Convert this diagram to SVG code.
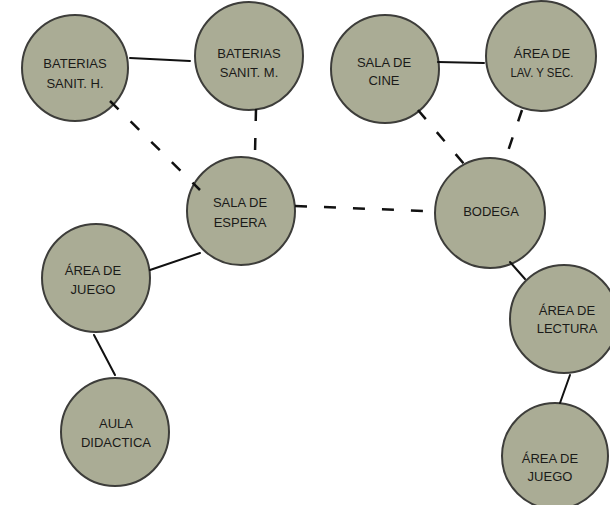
<svg xmlns="http://www.w3.org/2000/svg" width="610" height="505" viewBox="0 0 610 505">
<style>
.n{fill:#aaac95;stroke:#3d3d3a;stroke-width:2}
.t{font-family:"Liberation Sans",Arial,sans-serif;font-size:13px;fill:#1a1a18;text-anchor:middle}
.s{stroke:#111;stroke-width:2;fill:none;stroke-linecap:round}
.d{stroke:#111;stroke-width:2.5;fill:none;stroke-dasharray:12 17}
</style>
<rect width="610" height="505" fill="#fff"/>
<g id="n-banos-h"><circle class="n" cx="75" cy="68" r="53"/><text class="t" x="75" y="68">BATERIAS</text><text class="t" x="75" y="88">SANIT. H.</text></g>
<g id="n-banos-m"><circle class="n" cx="249" cy="56" r="54"/><text class="t" x="249" y="58">BATERIAS</text><text class="t" x="249" y="77">SANIT. M.</text></g>
<g id="n-cine"><circle class="n" cx="385" cy="69" r="54"/><text class="t" x="384" y="67">SALA DE</text><text class="t" x="384" y="85">CINE</text></g>
<g id="n-lav"><circle class="n" cx="541" cy="56" r="55"/><text class="t" x="542" y="58">ÁREA DE</text><text class="t" x="542" y="77" textLength="63" lengthAdjust="spacingAndGlyphs">LAV. Y SEC.</text></g>
<g id="n-espera"><circle class="n" cx="241" cy="211" r="54"/><text class="t" x="240" y="207">SALA DE</text><text class="t" x="240" y="227">ESPERA</text></g>
<g id="n-bodega"><circle class="n" cx="490" cy="213" r="55"/><text class="t" x="491" y="216">BODEGA</text></g>
<g id="n-juego-l"><circle class="n" cx="96" cy="278" r="54"/><text class="t" x="93" y="275">ÁREA DE</text><text class="t" x="93" y="294">JUEGO</text></g>
<g id="n-aula"><circle class="n" cx="115" cy="432" r="54"/><text class="t" x="116" y="428">AULA</text><text class="t" x="116" y="447">DIDACTICA</text></g>
<g id="n-lectura"><circle class="n" cx="564" cy="319" r="54"/><text class="t" x="567" y="315">ÁREA DE</text><text class="t" x="567" y="333">LECTURA</text></g>
<g id="n-juego-r"><circle class="n" cx="555" cy="456" r="53"/><text class="t" x="550" y="463">ÁREA DE</text><text class="t" x="550" y="481">JUEGO</text></g>
<g id="connectors">
<line class="s" x1="130" y1="58" x2="190" y2="61"/>
<line class="s" x1="438" y1="62" x2="484" y2="63"/>
<line class="s" x1="150" y1="270" x2="200" y2="253"/>
<line class="s" x1="94" y1="335" x2="115" y2="375"/>
<line class="s" x1="510" y1="262" x2="525" y2="279"/>
<line class="s" x1="570" y1="375" x2="560" y2="403"/>
<line class="d" x1="110" y1="101" x2="200" y2="190"/>
<line class="d" x1="256" y1="109" x2="255" y2="153" stroke-dasharray="11 19"/>
<line class="d" x1="295" y1="206" x2="425" y2="211" stroke-dasharray="13 16"/>
<line class="d" x1="418" y1="110" x2="464" y2="164" stroke-dasharray="11 18"/>
<line class="d" x1="522" y1="110" x2="508" y2="151" stroke-dasharray="12 16"/>
</g>
</svg>
